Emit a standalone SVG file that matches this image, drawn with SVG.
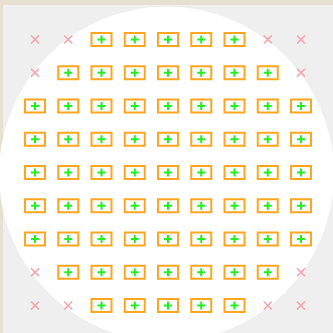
<svg xmlns="http://www.w3.org/2000/svg" xmlns:xlink="http://www.w3.org/1999/xlink" width="333" height="333" viewBox="0 0 333 333">
<style>
.cell rect{fill:#ffffff;stroke:#ffa51f;stroke-width:2}
.cell path{stroke:#22ee22;stroke-width:2;fill:none}
.off path{stroke:#f5a3aa;stroke-width:1.6;fill:none}
</style>
<defs>
<g id="c" class="cell"><rect x="-10" y="-6.5" width="20" height="13"/><path d="M-4 0H4M0 -4V4"/></g>
<g id="o" class="off"><path d="M-4 -4L4 4M4 -4L-4 4"/></g>
</defs>
<rect x="0" y="0" width="333" height="333" fill="#e7dfcf"/>
<rect x="3" y="5" width="330" height="328" fill="#efefef"/>
<circle cx="166.5" cy="174" r="167.5" fill="#ffffff"/>
<g id="connectors"/>
<g id="row0">
<g id="r0c0"><use href="#o" x="35" y="39.5"/></g>
<g id="r0c1"><use href="#o" x="68.25" y="39.5"/></g>
<g id="r0c2"><use href="#c" x="101.5" y="39.5"/></g>
<g id="r0c3"><use href="#c" x="134.75" y="39.5"/></g>
<g id="r0c4"><use href="#c" x="168" y="39.5"/></g>
<g id="r0c5"><use href="#c" x="201.25" y="39.5"/></g>
<g id="r0c6"><use href="#c" x="234.5" y="39.5"/></g>
<g id="r0c7"><use href="#o" x="267.75" y="39.5"/></g>
<g id="r0c8"><use href="#o" x="301" y="39.5"/></g>
</g>
<g id="row1">
<g id="r1c0"><use href="#o" x="35" y="72.75"/></g>
<g id="r1c1"><use href="#c" x="68.25" y="72.75"/></g>
<g id="r1c2"><use href="#c" x="101.5" y="72.75"/></g>
<g id="r1c3"><use href="#c" x="134.75" y="72.75"/></g>
<g id="r1c4"><use href="#c" x="168" y="72.75"/></g>
<g id="r1c5"><use href="#c" x="201.25" y="72.75"/></g>
<g id="r1c6"><use href="#c" x="234.5" y="72.75"/></g>
<g id="r1c7"><use href="#c" x="267.75" y="72.75"/></g>
<g id="r1c8"><use href="#o" x="301" y="72.75"/></g>
</g>
<g id="row2">
<g id="r2c0"><use href="#c" x="35" y="106"/></g>
<g id="r2c1"><use href="#c" x="68.25" y="106"/></g>
<g id="r2c2"><use href="#c" x="101.5" y="106"/></g>
<g id="r2c3"><use href="#c" x="134.75" y="106"/></g>
<g id="r2c4"><use href="#c" x="168" y="106"/></g>
<g id="r2c5"><use href="#c" x="201.25" y="106"/></g>
<g id="r2c6"><use href="#c" x="234.5" y="106"/></g>
<g id="r2c7"><use href="#c" x="267.75" y="106"/></g>
<g id="r2c8"><use href="#c" x="301" y="106"/></g>
</g>
<g id="row3">
<g id="r3c0"><use href="#c" x="35" y="139.25"/></g>
<g id="r3c1"><use href="#c" x="68.25" y="139.25"/></g>
<g id="r3c2"><use href="#c" x="101.5" y="139.25"/></g>
<g id="r3c3"><use href="#c" x="134.75" y="139.25"/></g>
<g id="r3c4"><use href="#c" x="168" y="139.25"/></g>
<g id="r3c5"><use href="#c" x="201.25" y="139.25"/></g>
<g id="r3c6"><use href="#c" x="234.5" y="139.25"/></g>
<g id="r3c7"><use href="#c" x="267.75" y="139.25"/></g>
<g id="r3c8"><use href="#c" x="301" y="139.25"/></g>
</g>
<g id="row4">
<g id="r4c0"><use href="#c" x="35" y="172.5"/></g>
<g id="r4c1"><use href="#c" x="68.25" y="172.5"/></g>
<g id="r4c2"><use href="#c" x="101.5" y="172.5"/></g>
<g id="r4c3"><use href="#c" x="134.75" y="172.5"/></g>
<g id="r4c4"><use href="#c" x="168" y="172.5"/></g>
<g id="r4c5"><use href="#c" x="201.25" y="172.5"/></g>
<g id="r4c6"><use href="#c" x="234.5" y="172.5"/></g>
<g id="r4c7"><use href="#c" x="267.75" y="172.5"/></g>
<g id="r4c8"><use href="#c" x="301" y="172.5"/></g>
</g>
<g id="row5">
<g id="r5c0"><use href="#c" x="35" y="205.75"/></g>
<g id="r5c1"><use href="#c" x="68.25" y="205.75"/></g>
<g id="r5c2"><use href="#c" x="101.5" y="205.75"/></g>
<g id="r5c3"><use href="#c" x="134.75" y="205.75"/></g>
<g id="r5c4"><use href="#c" x="168" y="205.75"/></g>
<g id="r5c5"><use href="#c" x="201.25" y="205.75"/></g>
<g id="r5c6"><use href="#c" x="234.5" y="205.75"/></g>
<g id="r5c7"><use href="#c" x="267.75" y="205.75"/></g>
<g id="r5c8"><use href="#c" x="301" y="205.75"/></g>
</g>
<g id="row6">
<g id="r6c0"><use href="#c" x="35" y="239"/></g>
<g id="r6c1"><use href="#c" x="68.25" y="239"/></g>
<g id="r6c2"><use href="#c" x="101.5" y="239"/></g>
<g id="r6c3"><use href="#c" x="134.75" y="239"/></g>
<g id="r6c4"><use href="#c" x="168" y="239"/></g>
<g id="r6c5"><use href="#c" x="201.25" y="239"/></g>
<g id="r6c6"><use href="#c" x="234.5" y="239"/></g>
<g id="r6c7"><use href="#c" x="267.75" y="239"/></g>
<g id="r6c8"><use href="#c" x="301" y="239"/></g>
</g>
<g id="row7">
<g id="r7c0"><use href="#o" x="35" y="272.25"/></g>
<g id="r7c1"><use href="#c" x="68.25" y="272.25"/></g>
<g id="r7c2"><use href="#c" x="101.5" y="272.25"/></g>
<g id="r7c3"><use href="#c" x="134.75" y="272.25"/></g>
<g id="r7c4"><use href="#c" x="168" y="272.25"/></g>
<g id="r7c5"><use href="#c" x="201.25" y="272.25"/></g>
<g id="r7c6"><use href="#c" x="234.5" y="272.25"/></g>
<g id="r7c7"><use href="#c" x="267.75" y="272.25"/></g>
<g id="r7c8"><use href="#o" x="301" y="272.25"/></g>
</g>
<g id="row8">
<g id="r8c0"><use href="#o" x="35" y="305.5"/></g>
<g id="r8c1"><use href="#o" x="68.25" y="305.5"/></g>
<g id="r8c2"><use href="#c" x="101.5" y="305.5"/></g>
<g id="r8c3"><use href="#c" x="134.75" y="305.5"/></g>
<g id="r8c4"><use href="#c" x="168" y="305.5"/></g>
<g id="r8c5"><use href="#c" x="201.25" y="305.5"/></g>
<g id="r8c6"><use href="#c" x="234.5" y="305.5"/></g>
<g id="r8c7"><use href="#o" x="267.75" y="305.5"/></g>
<g id="r8c8"><use href="#o" x="301" y="305.5"/></g>
</g>
</svg>
